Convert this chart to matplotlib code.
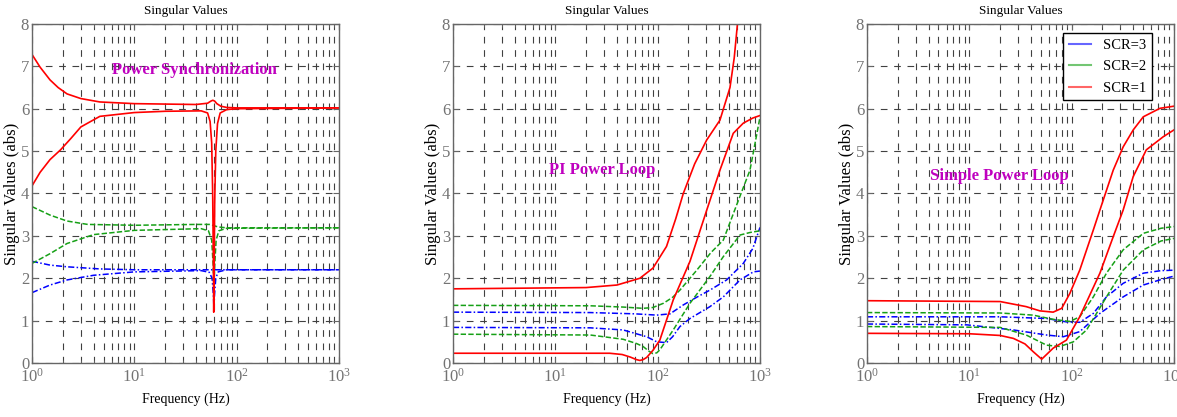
import numpy as np
import matplotlib
matplotlib.use('Agg')
import matplotlib.pyplot as plt
from matplotlib.lines import Line2D
from matplotlib.ticker import FixedLocator, LogLocator, FuncFormatter, NullFormatter

plt.rcParams['font.family'] = ['Liberation Serif', 'DejaVu Serif']
plt.rcParams['mathtext.fontset'] = 'custom'
plt.rcParams['mathtext.rm'] = 'Liberation Serif'

# ---- Power Synchronization ----
ps_r_hi_f = [1, 1.2, 1.5, 1.8, 2.2, 3, 4.6, 10, 20, 40, 52, 56, 58.5, 61, 64, 70, 80, 100, 1000]
ps_r_hi_v = [7.28, 6.98, 6.68, 6.5, 6.35, 6.24, 6.16, 6.12, 6.11, 6.1, 6.13, 6.18, 6.2, 6.18, 6.12, 6.06, 6.03, 6.02, 6.02]
ps_r_lo_f = [1, 1.2, 1.5, 1.9, 2.4, 3, 4.6, 10, 20, 45, 52, 55, 57, 58.3, 59.2, 59.7, 60.3, 61, 62.5, 65, 69, 80, 100, 1000]
ps_r_lo_v = [4.18, 4.5, 4.8, 5.03, 5.3, 5.57, 5.82, 5.91, 5.94, 5.95, 5.9, 5.7, 5.2, 4.0, 2.4, 1.2, 2.2, 3.8, 5.0, 5.65, 5.9, 5.98, 6.0, 6.02]
ps_g_hi_f = [1, 1.5, 2.2, 3.5, 10, 40, 55, 60, 66, 80, 1000]
ps_g_hi_v = [3.69, 3.49, 3.35, 3.27, 3.25, 3.27, 3.27, 3.24, 3.21, 3.19, 3.19]
ps_g_lo_f = [1, 1.5, 2.2, 4, 10, 45, 53, 57, 59, 60, 61, 63, 67, 80, 1000]
ps_g_lo_v = [2.35, 2.58, 2.82, 3.03, 3.13, 3.17, 3.12, 2.9, 2.3, 1.6, 2.3, 2.9, 3.12, 3.18, 3.19]
ps_b_hi_f = [1, 1.5, 2.2, 4.6, 10, 1000]
ps_b_hi_v = [2.40, 2.31, 2.27, 2.22, 2.2, 2.2]
ps_b_lo_f = [1, 1.5, 2.2, 4, 10, 45, 54, 57.5, 59.3, 60, 60.7, 62.5, 66, 80, 1000]
ps_b_lo_v = [1.66, 1.84, 1.96, 2.07, 2.15, 2.18, 2.14, 2.0, 1.6, 1.25, 1.6, 2.0, 2.15, 2.2, 2.2]

# ---- PI Power Loop ----
pi_r_hi_f = [1, 20, 40, 67, 90, 122, 150, 178, 230, 301, 406, 509, 560, 605, 650]
pi_r_hi_v = [1.75, 1.78, 1.84, 2.0, 2.24, 2.75, 3.4, 4.0, 4.7, 5.26, 5.73, 6.5, 7.2, 8.05, 9.0]
pi_r_lo_f = [1, 34, 45, 54, 62, 67, 72, 78, 90, 105, 142, 207, 301, 406, 548, 687, 850, 1000]
pi_r_lo_v = [0.23, 0.23, 0.2, 0.14, 0.08, 0.06, 0.08, 0.13, 0.3, 0.54, 1.49, 2.4, 3.6, 4.55, 5.42, 5.66, 5.78, 5.84]
pi_g_hi_f = [1, 22, 46, 72, 90, 114, 140, 165, 241, 330, 438, 585, 798, 1000]
pi_g_hi_v = [1.36, 1.35, 1.32, 1.29, 1.31, 1.41, 1.55, 1.72, 2.19, 2.6, 2.9, 3.7, 4.55, 5.8]
pi_g_lo_f = [1, 22, 46, 62, 72, 82, 90, 98, 105, 142, 207, 324, 438, 638, 800, 1000]
pi_g_lo_v = [0.68, 0.66, 0.56, 0.46, 0.39, 0.28, 0.22, 0.24, 0.31, 0.78, 1.41, 2.04, 2.51, 3.02, 3.08, 3.12]
pi_b_hi_f = [1, 22, 60, 98, 132, 178, 240, 324, 472, 687, 850, 1000]
pi_b_hi_v = [1.2, 1.19, 1.16, 1.13, 1.16, 1.37, 1.55, 1.72, 1.96, 2.35, 2.7, 3.2]
pi_b_lo_f = [1, 22, 46, 78, 98, 122, 140, 165, 207, 324, 438, 638, 860, 1000]
pi_b_lo_v = [0.84, 0.83, 0.78, 0.62, 0.5, 0.48, 0.62, 0.86, 1.05, 1.33, 1.56, 1.96, 2.15, 2.17]

# ---- Simple Power Loop ----
sp_r_hi_f = [1, 20, 36, 49, 66, 80, 96, 120, 163, 189, 255, 319, 400, 502, 730, 1000]
sp_r_hi_v = [1.47, 1.45, 1.33, 1.23, 1.2, 1.29, 1.64, 2.19, 3.14, 3.61, 4.55, 5.1, 5.5, 5.81, 6.01, 6.06]
sp_r_lo_f = [1, 10, 20, 27, 35, 42, 51, 58, 66, 89, 120, 189, 255, 319, 400, 537, 787, 1000]
sp_r_lo_v = [0.7, 0.69, 0.65, 0.58, 0.45, 0.27, 0.09, 0.22, 0.35, 0.54, 1.09, 2.12, 2.98, 3.61, 4.4, 5.03, 5.34, 5.5]
sp_g_hi_f = [1, 20, 42, 66, 96, 120, 163, 219, 319, 502, 750, 1000]
sp_g_hi_v = [1.19, 1.18, 1.13, 1.03, 0.98, 1.09, 1.56, 2.12, 2.67, 3.06, 3.18, 3.22]
sp_g_lo_f = [1, 20, 36, 57, 77, 104, 140, 219, 319, 502, 750, 1000]
sp_g_lo_v = [0.86, 0.84, 0.66, 0.42, 0.39, 0.5, 0.78, 1.56, 2.19, 2.67, 2.88, 2.94]
sp_b_hi_f = [1, 20, 57, 89, 120, 163, 219, 319, 502, 750, 1000]
sp_b_hi_v = [1.09, 1.09, 1.05, 0.97, 0.96, 1.17, 1.56, 1.88, 2.12, 2.18, 2.19]
sp_b_lo_f = [1, 9.5, 27, 57, 83, 120, 189, 319, 502, 750, 1000]
sp_b_lo_v = [0.92, 0.9, 0.78, 0.66, 0.62, 0.74, 1.17, 1.56, 1.84, 1.97, 2.05]

scr_labels = ['SCR=3', 'SCR=2', 'SCR=1']
y_ticks = [0, 1, 2, 3, 4, 5, 6, 7, 8]

BLUE = '#0000ff'
GREEN = '#16a016'
RED = '#ff0000'
MAGENTA = '#bf00bf'
GRID_LS = (0, (6, 6))


def setupAxes(ax):
    ax.set_xscale('log')
    ax.set_xlim(1, 1000)
    ax.set_ylim(0, 8)
    ax.yaxis.set_major_locator(FixedLocator(y_ticks))
    ax.xaxis.set_major_locator(LogLocator(base=10, numticks=10))
    ax.xaxis.set_minor_locator(LogLocator(base=10, subs=np.arange(2, 10), numticks=20))
    ax.xaxis.set_major_formatter(FuncFormatter(lambda v, p: r'$\mathregular{10^{%d}}$' % round(np.log10(v))))
    ax.xaxis.set_minor_formatter(NullFormatter())
    ax.grid(True, which='major', color='0.25', lw=0.8, ls=GRID_LS)
    ax.grid(True, which='minor', axis='x', color='0.25', lw=0.8, ls=GRID_LS)
    ax.tick_params(which='both', direction='in', color='0.4', labelcolor='0.45',
                   labelsize=12, top=True, right=True)
    ax.tick_params(which='major', length=4)
    ax.tick_params(which='minor', length=2)
    ax.tick_params(axis='y', pad=2)
    for sp in ax.spines.values():
        sp.set_color('0.4')
        sp.set_linewidth(1.0)
    ax.set_title('Singular Values', fontsize=9.5, pad=7)
    ax.set_xlabel('Frequency (Hz)', fontsize=10, labelpad=5)
    ax.set_ylabel('Singular Values (abs)', fontsize=12)
    ax.yaxis.set_label_coords(-0.038, 0.5)


def drawCurves(ax, r_hi, r_lo, g_hi, g_lo, b_hi, b_lo):
    ax.plot(b_hi[0], b_hi[1], color=BLUE, lw=1.1, ls=(0, (4, 1.5, 1, 1.5)))
    ax.plot(b_lo[0], b_lo[1], color=BLUE, lw=1.1, ls=(0, (4, 1.5, 1, 1.5)))
    ax.plot(g_hi[0], g_hi[1], color=GREEN, lw=1.1, ls=(0, (3.5, 1.5)))
    ax.plot(g_lo[0], g_lo[1], color=GREEN, lw=1.1, ls=(0, (3.5, 1.5)))
    ax.plot(r_hi[0], r_hi[1], color=RED, lw=1.2)
    ax.plot(r_lo[0], r_lo[1], color=RED, lw=1.2)


fig = plt.figure(figsize=(11.77, 4.17), dpi=100)
ax1 = fig.add_axes([0.0272, 0.1295, 0.2608, 0.813])
ax2 = fig.add_axes([0.3849, 0.1295, 0.2608, 0.813])
ax3 = fig.add_axes([0.7366, 0.1295, 0.2608, 0.813])

for ax in (ax1, ax2, ax3):
    setupAxes(ax)

drawCurves(ax1, (ps_r_hi_f, ps_r_hi_v), (ps_r_lo_f, ps_r_lo_v), (ps_g_hi_f, ps_g_hi_v),
           (ps_g_lo_f, ps_g_lo_v), (ps_b_hi_f, ps_b_hi_v), (ps_b_lo_f, ps_b_lo_v))
drawCurves(ax2, (pi_r_hi_f, pi_r_hi_v), (pi_r_lo_f, pi_r_lo_v), (pi_g_hi_f, pi_g_hi_v),
           (pi_g_lo_f, pi_g_lo_v), (pi_b_hi_f, pi_b_hi_v), (pi_b_lo_f, pi_b_lo_v))
drawCurves(ax3, (sp_r_hi_f, sp_r_hi_v), (sp_r_lo_f, sp_r_lo_v), (sp_g_hi_f, sp_g_hi_v),
           (sp_g_lo_f, sp_g_lo_v), (sp_b_hi_f, sp_b_hi_v), (sp_b_lo_f, sp_b_lo_v))

ax1.text(39, 6.91, 'Power Synchronization', ha='center', va='center',
         color=MAGENTA, fontweight='bold', fontsize=12)
ax2.text(28.6, 4.55, 'PI Power Loop', ha='center', va='center',
         color=MAGENTA, fontweight='bold', fontsize=12)
ax3.text(19.7, 4.41, 'Simple Power Loop', ha='center', va='center',
         color=MAGENTA, fontweight='bold', fontsize=12)

handles = [Line2D([], [], color=c, lw=1.5, alpha=0.6) for c in (BLUE, GREEN, RED)]
leg = ax3.legend(handles, scr_labels, loc='upper right', bbox_to_anchor=(0.928, 0.973),
                 borderaxespad=0, fancybox=False, framealpha=1, edgecolor='black',
                 fontsize=10.5, handlelength=1.5, handletextpad=0.8, labelspacing=0.55,
                 borderpad=0.4)
leg.get_frame().set_linewidth(1.0)

fig.savefig('out.png', dpi=100)
